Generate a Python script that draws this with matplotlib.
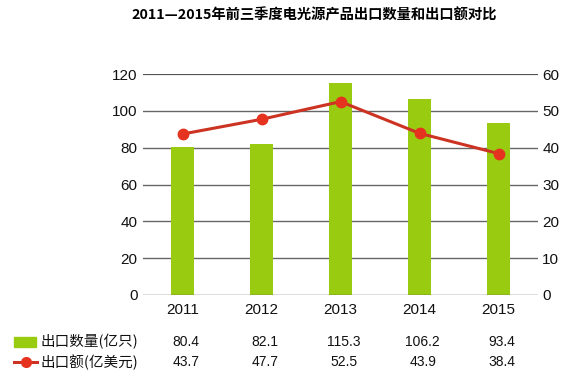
import matplotlib
matplotlib.use("Agg")
import matplotlib.pyplot as plt
from matplotlib.lines import Line2D
from matplotlib.patches import Rectangle
import matplotlib.transforms as mtransforms

years = ["2011", "2012", "2013", "2014", "2015"]
quantity = [80.4, 82.1, 115.3, 106.2, 93.4]
amount = [43.7, 47.7, 52.5, 43.9, 38.4]
qty_label = "出口数量(亿只)"
amt_label = "出口额(亿美元)"
title = "2011—2015年前三季度电光源产品出口数量和出口额对比"
left_ticks = [0, 20, 40, 60, 80, 100, 120]
right_ticks = [0, 10, 20, 30, 40, 50, 60]

plt.rcParams['font.family'] = ['Liberation Sans', 'Noto Sans CJK SC', 'DejaVu Sans']

W, H = 588, 373
fig = plt.figure(figsize=(W / 100, H / 100), dpi=100)
fig.patch.set_facecolor("white")

L, R, B, T = 143, 538, 295, 74
ax = fig.add_axes([L / W, (H - B) / H, (R - L) / W, (B - T) / H])
ax2 = ax.twinx()

green = "#99CC11"
red = "#CC3322"
mred = "#E63320"

x = list(range(len(years)))
ax.set_ylim(0, 120)
ax2.set_ylim(0, 60)
ax.set_xlim(-0.5, len(years) - 0.5)

for t in left_ticks[1:-1]:
    ax.axhline(t, color="#666666", lw=1.0, zorder=0)
ax.axhline(120, color="#555555", lw=1.6, zorder=0)
ax.axhline(0, color="#555555", lw=1.0, zorder=3)

ax.bar(x, quantity, width=0.29, color=green, zorder=2)
ax2.plot(x, amount, color=red, lw=2.2, marker="o", markersize=7.5,
         markerfacecolor=mred, markeredgecolor=mred, zorder=4)

for a in (ax, ax2):
    for s in a.spines.values():
        s.set_visible(False)

ax.set_yticks(left_ticks)
ax2.set_yticks(right_ticks)
ax.set_xticks(x)
ax.set_xticklabels(years)
ax.tick_params(axis="y", length=0, pad=4, labelsize=11, labelcolor="#111111")
ax2.tick_params(axis="y", length=0, pad=3, labelsize=11, labelcolor="#111111")
ax.tick_params(axis="x", length=0, pad=6, labelsize=11, labelcolor="#111111")

fig.text(314 / W, 1 - 15 / H, title, ha="center", va="center",
         fontsize=10.3, fontweight="bold",
         family=['Noto Sans CJK SC', 'DejaVu Sans'])

# table below
trans = mtransforms.blended_transform_factory(ax.transData, fig.transFigure)
y1 = 1 - 342 / H
y2 = 1 - 362 / H
for i in x:
    fig.text(i + 0.04, y1, f"{quantity[i]:.1f}", transform=trans, ha="center", va="center",
             fontsize=10, color="#111111")
    fig.text(i + 0.04, y2, f"{amount[i]:.1f}", transform=trans, ha="center", va="center",
             fontsize=10, color="#111111")

fig.patches.append(Rectangle((14 / W, 1 - 347 / H), 22 / W, 10 / H,
                             transform=fig.transFigure, color=green))
fig.lines.append(Line2D([14 / W, 37 / W], [y2, y2], transform=fig.transFigure,
                        color=red, lw=2.2))
fig.lines.append(Line2D([25.5 / W], [y2], transform=fig.transFigure, marker="o",
                        markersize=7, color=mred))
fig.text(41 / W, y1, qty_label, ha="left", va="center", fontsize=10.5,
         family=['Noto Sans CJK SC', 'DejaVu Sans'], color="#111111")
fig.text(41 / W, y2, amt_label, ha="left", va="center", fontsize=10.5,
         family=['Noto Sans CJK SC', 'DejaVu Sans'], color="#111111")

fig.savefig("out.png", dpi=100, facecolor="white")
